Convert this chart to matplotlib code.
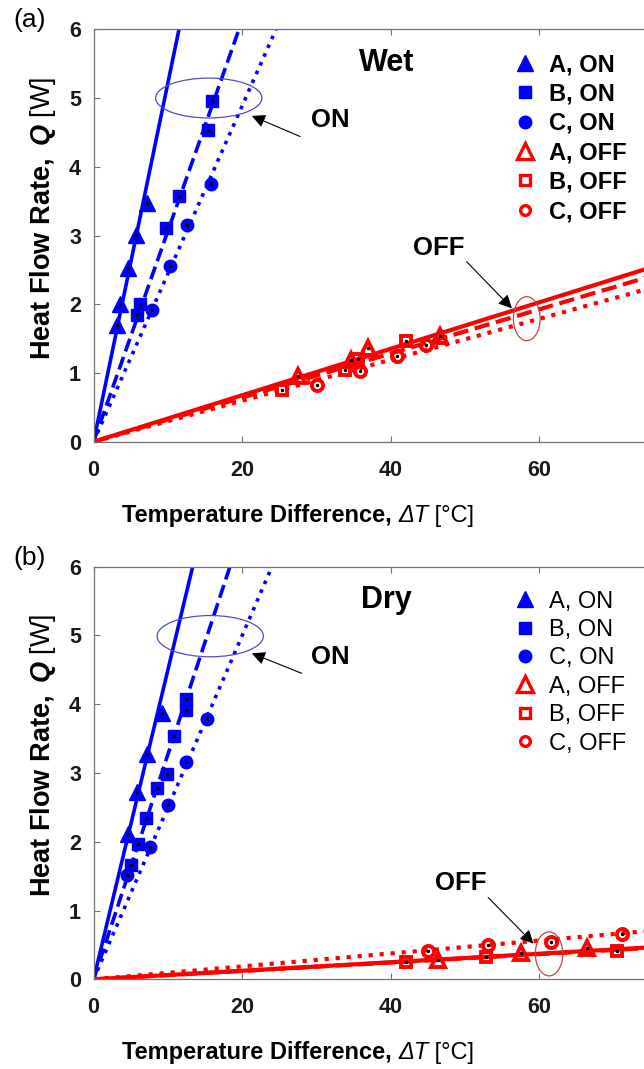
import matplotlib

matplotlib.use("Agg")
import matplotlib.pyplot as plt
import numpy as np
from matplotlib import font_manager
from matplotlib.lines import Line2D
from matplotlib.patches import Ellipse

# measured points, wet condition
WET_A_ON_X = [3.1, 3.55, 4.67, 5.7, 7.15]
WET_A_ON_Y = [1.70, 2.00, 2.52, 3.01, 3.47]
WET_B_ON_X = [5.9, 6.24, 9.74, 11.5, 15.4, 16.0]
WET_B_ON_Y = [1.84, 2.00, 3.11, 3.57, 4.54, 4.95]
WET_C_ON_X = [7.8, 10.3, 12.6, 15.76]
WET_C_ON_Y = [1.92, 2.55, 3.16, 3.75]
WET_A_OFF_X = [27.5, 34.7, 36.9, 46.6]
WET_A_OFF_Y = [0.96, 1.19, 1.36, 1.54]
WET_B_OFF_X = [25.4, 33.9, 35.6, 42.1]
WET_B_OFF_Y = [0.75, 1.04, 1.21, 1.46]
WET_C_OFF_X = [30.1, 35.8, 40.8, 44.7]
WET_C_OFF_Y = [0.83, 1.03, 1.24, 1.41]

# measured points, dry condition
DRY_A_ON_X = [4.59, 5.88, 7.23, 9.17]
DRY_A_ON_Y = [2.12, 2.73, 3.28, 3.87]
DRY_B_ON_X = [5.0, 6.02, 7.05, 8.58, 9.9, 10.8, 12.4, 12.4]
DRY_B_ON_Y = [1.66, 1.97, 2.34, 2.78, 2.99, 3.54, 3.92, 4.08]
DRY_C_ON_X = [4.45, 7.6, 10.05, 12.5, 15.2]
DRY_C_ON_Y = [1.52, 1.93, 2.53, 3.16, 3.78]
DRY_A_OFF_X = [46.4, 57.5, 66.4]
DRY_A_OFF_Y = [0.28, 0.378, 0.46]
DRY_B_OFF_X = [42.1, 52.8, 70.5]
DRY_B_OFF_Y = [0.256, 0.33, 0.41]
DRY_C_OFF_X = [45.0, 53.1, 61.5, 71.1]
DRY_C_OFF_Y = [0.416, 0.499, 0.547, 0.66]

# fitted conductance (slope through origin), W/K, order A, B, C
WET_ON_SLOPE = [0.522, 0.3066, 0.2444]
WET_OFF_SLOPE = [0.0338, 0.0321, 0.0298]
DRY_ON_SLOPE = [0.450, 0.327, 0.250]
DRY_OFF_SLOPE = [0.0062, 0.0061, 0.0094]

SERIES_LABELS = ["A, ON", "B, ON", "C, ON", "A, OFF", "B, OFF", "C, OFF"]
X_TICKS = [0, 20, 40, 60]
Y_TICKS = [0, 1, 2, 3, 4, 5, 6]

W, H = 644, 1069
BLUE = (0, 0, 1)
RED = (1, 0, 0)
GREY = (0.45, 0.45, 0.45)

plt.rcParams["font.family"] = ["Liberation Sans", "DejaVu Sans"]
plt.rcParams["mathtext.fontset"] = "custom"
plt.rcParams["mathtext.rm"] = "Liberation Sans"
plt.rcParams["mathtext.it"] = "Liberation Sans:italic"
plt.rcParams["mathtext.bf"] = "Liberation Sans:bold"
plt.rcParams["mathtext.bfit"] = "Liberation Sans:italic:bold"

names = {f.name for f in font_manager.fontManager.ttflist}
if "Liberation Sans Narrow" in names:
    XL_FAMILY, XL_SIZE = ["Liberation Sans Narrow", "DejaVu Sans"], 20.5
else:
    XL_FAMILY, XL_SIZE = ["Liberation Sans", "DejaVu Sans"], 17.0

MARKERS = ["^", "s", "o"]
ON_MS = [11, 8, 9]
OFF_MS = [10, 7, 8]
STYLES = ["-", "--", ":"]


def px_axes(top, bottom):
    left = 93.6
    width = 80 * 7.43
    return [left / W, (H - bottom) / H, width / W, (bottom - top) / H]


def style_axes(ax):
    ax.set_xlim(0, 80)
    ax.set_ylim(0, 6)
    ax.set_xticks(X_TICKS)
    ax.set_yticks(Y_TICKS)
    for side in ax.spines.values():
        side.set_color(GREY)
        side.set_linewidth(0.9)
    ax.tick_params(direction="in", length=4, width=0.8, color=GREY,
                   top=True, right=True, labelsize=15.5, labelcolor="#1a1a1a")
    ax.tick_params(axis="x", pad=13)
    ax.tick_params(axis="y", pad=9)
    for lab in ax.get_xticklabels() + ax.get_yticklabels():
        lab.set_fontweight("bold")


def draw_panel(ax, on_pts, off_pts, on_slopes, off_slopes):
    xs = np.array([0.0, 80.0])
    for slope, ls in zip(on_slopes, STYLES):
        ax.plot(xs, slope * xs, color=BLUE, lw=2.6, ls=ls, zorder=2)
    for slope, ls in zip(off_slopes, STYLES):
        ax.plot(xs, slope * xs, color=RED, lw=3.0, ls=ls, zorder=2)
    for (x, y), m, ms in zip(on_pts, MARKERS, ON_MS):
        ax.plot(x, y, ls="none", marker=m, ms=ms, color=BLUE, zorder=3)
        ax.plot(x, y, ls="none", marker=".", ms=3, color="k", zorder=4)
    for (x, y), m, ms in zip(off_pts, MARKERS, OFF_MS):
        ax.plot(x, y, ls="none", marker=m, ms=ms, mfc="none", mec=RED,
                mew=2.8, zorder=3)
        ax.plot(x, y, ls="none", marker=".", ms=3, color="k", zorder=4)


def add_legend(ax, weight):
    handles = []
    for m, ms in zip(MARKERS, ON_MS):
        handles.append(Line2D([], [], ls="none", marker=m, ms=ms, color=BLUE))
    for m, ms in zip(MARKERS, [11, 7, 7]):
        handles.append(Line2D([], [], ls="none", marker=m, ms=ms, mfc="white",
                              mec=RED, mew=2.4))
    ax.legend(handles, SERIES_LABELS, loc="upper left",
              bbox_to_anchor=(0.706, 0.942), frameon=False,
              prop={"size": 17, "weight": weight}, handlelength=1.0,
              handletextpad=0.52, labelspacing=0.27, borderpad=0,
              borderaxespad=0)


def add_notes(ax, label, on_arrow, off_arrow, off_text, on_ell, off_ell):
    ax.text(39.4, 5.40, label, ha="center", va="baseline", fontsize=22,
            fontweight="bold")
    ax.text(29.3, on_arrow[1][1] - 0.16, "ON", ha="left", va="baseline",
            fontsize=18.5, fontweight="bold")
    ax.text(off_text[0], off_text[1], "OFF", ha="center", va="baseline",
            fontsize=18.5, fontweight="bold")
    for tail, head in (on_arrow, off_arrow):
        ax.annotate("", xy=head, xytext=tail,
                    arrowprops=dict(arrowstyle="-|>", color="k", lw=0.8,
                                    mutation_scale=20, shrinkA=0, shrinkB=0))
    ax.add_patch(Ellipse(on_ell[:2], on_ell[2], on_ell[3], fill=False,
                         ec=(0.3, 0.3, 0.8), lw=0.9, zorder=5))
    ax.add_patch(Ellipse(off_ell[:2], off_ell[2], off_ell[3], fill=False,
                         ec=(0.8, 0.25, 0.25), lw=0.9, zorder=5))


def add_labels(fig, dy, tag):
    fig.text(13 / W, (H - 20 - dy) / H, tag, ha="left", va="center",
             fontsize=19)
    fig.text(43 / W, (H - 218 - dy) / H,
             r"$\mathbf{Heat\ Flow\ Rate,}\ \mathbfit{Q}\ \mathrm{[W]}$",
             rotation=90, ha="center", va="center", fontsize=19.5)
    t1 = fig.text(121.7 / W, (H - 521.7 - dy) / H, "Temperature Difference, ",
                  ha="left", va="baseline", fontsize=XL_SIZE,
                  fontweight="bold", family=XL_FAMILY)
    t2 = fig.axes[0].annotate("\u0394T", xy=(1, 0), xycoords=t1, ha="left",
                              va="bottom", fontsize=XL_SIZE, style="italic",
                              family=XL_FAMILY, annotation_clip=False)
    fig.axes[0].annotate(" [\u00b0C]", xy=(1, 0), xycoords=t2, ha="left",
                         va="bottom", fontsize=XL_SIZE, family=XL_FAMILY,
                         annotation_clip=False)


fig = plt.figure(figsize=(W / 100, H / 100), dpi=100)
ax_a = fig.add_axes(px_axes(29.3, 441.7))
ax_b = fig.add_axes(px_axes(566.7, 979.3))

for ax in (ax_a, ax_b):
    style_axes(ax)

draw_panel(ax_a,
           [(WET_A_ON_X, WET_A_ON_Y), (WET_B_ON_X, WET_B_ON_Y),
            (WET_C_ON_X, WET_C_ON_Y)],
           [(WET_A_OFF_X, WET_A_OFF_Y), (WET_B_OFF_X, WET_B_OFF_Y),
            (WET_C_OFF_X, WET_C_OFF_Y)],
           WET_ON_SLOPE, WET_OFF_SLOPE)
draw_panel(ax_b,
           [(DRY_A_ON_X, DRY_A_ON_Y), (DRY_B_ON_X, DRY_B_ON_Y),
            (DRY_C_ON_X, DRY_C_ON_Y)],
           [(DRY_A_OFF_X, DRY_A_OFF_Y), (DRY_B_OFF_X, DRY_B_OFF_Y),
            (DRY_C_OFF_X, DRY_C_OFF_Y)],
           DRY_ON_SLOPE, DRY_OFF_SLOPE)

add_legend(ax_a, "bold")
add_legend(ax_b, "normal")

add_notes(ax_a, "Wet", ((27.8, 4.44), (21.3, 4.74)),
          ((50.2, 2.62), (56.3, 1.94)), (46.5, 2.72),
          (15.5, 5.0, 14.3, 0.58), (58.3, 1.79, 3.6, 0.64))
add_notes(ax_b, "Dry", ((28.0, 4.45), (21.3, 4.74)),
          ((53.1, 1.19), (59.2, 0.52)), (49.4, 1.30),
          (15.7, 4.99, 14.3, 0.60), (61.3, 0.37, 3.7, 0.64))

add_labels(fig, 0, "(a)")
add_labels(fig, 537.5, "(b)")

fig.savefig("out.png", dpi=100)
